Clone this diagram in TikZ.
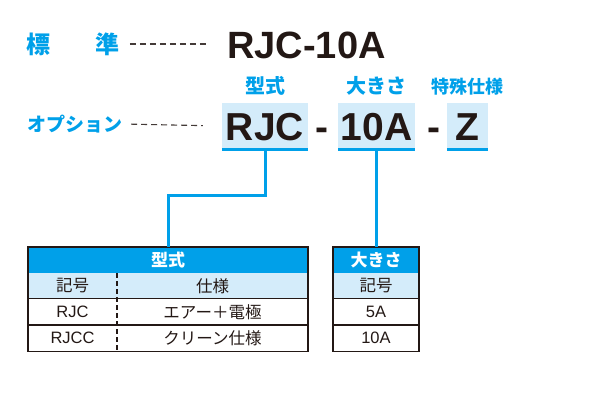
\documentclass[tikz,border=0pt]{standalone}
\usepackage{fontspec}
\setmainfont{Liberation Sans}
\newfontfamily\jpfont{Noto Sans CJK JP}
\definecolor{skyblue}{RGB}{0,160,233}
\definecolor{paleblue}{RGB}{212,236,250}
\definecolor{inkdark}{RGB}{35,24,21}
\usetikzlibrary{positioning,calc}

\tikzset{
  jplabel/.style={text=skyblue, font=\jpfont\bfseries\fontsize{#1}{#1}\selectfont, inner sep=0pt},
  leader/.style={draw=inkdark!85, line width=1.1pt, dash pattern=on 6pt off 4pt},
  codebox/.style={fill=paleblue, text=inkdark, font=\bfseries\fontsize{39}{39}\selectfont,
    text height=29pt, text depth=0pt, inner xsep=0pt, inner ysep=8.5pt, minimum width=#1},
  joiner/.style={text=inkdark, font=\bfseries\fontsize{39}{39}\selectfont,
    text height=29pt, text depth=0pt, inner xsep=0pt, inner ysep=8.5pt},
  tabhead/.style={fill=skyblue, text=white, font=\jpfont\bfseries\fontsize{17}{17}\selectfont,
    minimum width=#1, minimum height=26pt, inner sep=0pt},
  tabsub/.style={fill=paleblue, minimum width=#1, minimum height=25pt, inner sep=0pt},
  tabrow/.style={minimum width=#1, minimum height=26pt, inner sep=0pt},
  celljp/.style={text=inkdark, font=\jpfont\fontsize{16.5}{16.5}\selectfont, inner sep=0pt},
  cellen/.style={text=inkdark, font=\fontsize{16.5}{16.5}\selectfont, inner sep=0pt},
  frame/.style={draw=inkdark, line width=1.6pt},
  rule/.style={draw=inkdark, line width=1.3pt},
  divider/.style={draw=inkdark, line width=1.3pt, dash pattern=on 5pt off 3pt},
  wire/.style={draw=skyblue, line width=3pt},
}

\begin{document}
\begin{tikzpicture}[x=1pt,y=-1pt]
  \useasboundingbox (0,0) rectangle (600,400);

  % standard line
  \node[jplabel=24, anchor=west] (hyojun) at (26.5,44) {標\hspace{45pt}準};
  \node[text=inkdark, font=\bfseries\fontsize{38}{38}\selectfont, text height=28pt, text depth=0pt, inner sep=0pt]
    (stdcode) at (306.5,44) {RJC-10A};
  \draw[leader, shorten <=10pt, shorten >=21pt] (hyojun.east) -- (stdcode.west);

  % option line
  \node[jplabel=19] (option) at (75,124) {オプション};
  \node[codebox=86pt] (rjc) at (265,126) {RJC};
  \node[joiner] (dashA) at (322,126) {-};
  \node[codebox=77pt] (size) at (376.5,126) {10A};
  \node[joiner] (dashB) at (434,126) {-};
  \node[codebox=41pt] (spec) at (467.5,126) {Z};
  \draw[leader, shorten <=8.5pt, shorten >=19pt] (option.east) -- (rjc.west);
  \draw[wire] (rjc.south west) -- (rjc.south east);
  \draw[wire] (size.south west) -- (size.south east);
  \draw[wire] (spec.south west) -- (spec.south east);

  \node[jplabel=20, above=7pt of rjc] (typelbl) {型式};
  \node[jplabel=20, above=7pt of size] (sizelbl) {大きさ};
  \node[jplabel=18, above=7pt of spec] (speclbl) {特殊仕様};

  % type table
  \node[tabhead=280pt] (typehead) at (168,260) {型式};
  \node[tabsub=280pt, below=0pt of typehead] (typesub) {};
  \node[tabrow=280pt, below=0pt of typesub] (typerow1) {};
  \node[tabrow=280pt, below=0pt of typerow1] (typerow2) {};
  \coordinate (codecol) at (72.5,0);
  \coordinate (speccol) at (212.5,0);
  \coordinate (divx) at (117,0);
  \node[celljp] (typesubcode) at (codecol |- typesub) {記号};
  \node[celljp] (typesubspec) at (speccol |- typesub) {仕様};
  \node[cellen] (typecode1) at (codecol |- typerow1) {RJC};
  \node[celljp] (typespec1) at (speccol |- typerow1) {エアー＋電極};
  \node[cellen] (typecode2) at (codecol |- typerow2) {RJCC};
  \node[celljp] (typespec2) at (speccol |- typerow2) {クリーン仕様};
  \draw[rule] (typerow1.north west) -- (typerow1.north east);
  \draw[rule] (typerow2.north west) -- (typerow2.north east);
  \draw[divider] (divx |- typesub.north) -- (divx |- typerow2.south);
  \draw[frame] (typehead.north west) rectangle (typerow2.south east);

  % size table
  \node[tabhead=86pt] (sizehead) at (376,260) {大きさ};
  \node[tabsub=86pt, below=0pt of sizehead, celljp] (sizesub) {記号};
  \node[tabrow=86pt, below=0pt of sizesub, cellen] (sizerow1) {5A};
  \node[tabrow=86pt, below=0pt of sizerow1, cellen] (sizerow2) {10A};
  \draw[rule] (sizerow1.north west) -- (sizerow1.north east);
  \draw[rule] (sizerow2.north west) -- (sizerow2.north east);
  \draw[frame] (sizehead.north west) rectangle (sizerow2.south east);

  % connectors
  \draw[wire] (rjc.south) -- ++(0,46) -| (typehead.north);
  \draw[wire] (size.south) -- (size.south |- sizehead.north);
\end{tikzpicture}
\end{document}
